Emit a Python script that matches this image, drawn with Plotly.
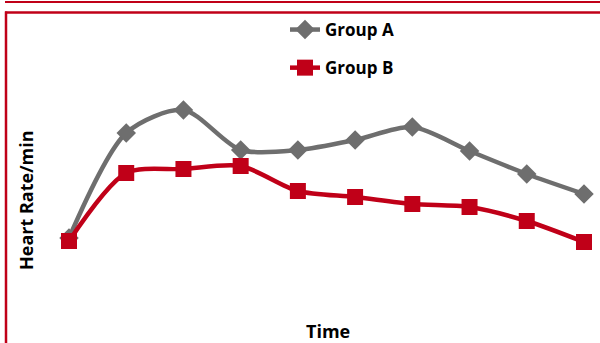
import plotly.graph_objects as go

time_points = [1, 2, 3, 4, 5, 6, 7, 8, 9, 10]
group_a = [75.5, 101.75, 107.5, 97.5, 97.5, 100.0, 103.25, 97.25, 91.5, 86.5]
group_b = [74.75, 91.75, 92.75, 93.5, 87.25, 85.75, 84.0, 83.25, 79.75, 74.5]

GREY = "#6E6E6E"
RED = "#C00018"
FONT = "Open Sans"

fig = go.Figure()
fig.add_trace(go.Scatter(
    x=time_points, y=group_a, name="Group A", mode="lines+markers",
    line=dict(color=GREY, width=4.5, shape="spline", smoothing=0.8),
    marker=dict(symbol="diamond", size=15, color=GREY),
    legendgroup="a",
))
fig.add_trace(go.Scatter(
    x=time_points, y=group_b, name="Group B", mode="lines+markers",
    line=dict(color=RED, width=4.5, shape="spline", smoothing=0.8),
    marker=dict(symbol="square", size=16, color=RED),
    legendgroup="b",
))

L, R, T, B = 40, 0, 20, 43
W, H = 600, 343
pw, ph = W - L - R, H - T - B


def px(x):
    return (x - L) / pw


def py(y):
    return (H - B - y) / ph


shapes = [
    dict(type="line", xref="paper", yref="paper", x0=px(5), x1=px(600), y0=py(2), y1=py(2),
         line=dict(color=RED, width=2)),
    dict(type="line", xref="paper", yref="paper", x0=px(5), x1=px(600), y0=py(12.5), y1=py(12.5),
         line=dict(color=RED, width=2.5)),
    dict(type="line", xref="paper", yref="paper", x0=px(6), x1=px(6), y0=py(11.5), y1=py(343),
         line=dict(color=RED, width=2.5)),
]

annotations = [
    dict(text="<b>Time</b>", xref="paper", yref="paper", x=px(328), y=py(331),
         xanchor="center", yanchor="middle", showarrow=False,
         font=dict(size=18, family=FONT, color="black")),
    dict(text="<b>Heart Rate/min</b>", xref="paper", yref="paper", x=px(26), y=py(200),
         xanchor="center", yanchor="middle", showarrow=False, textangle=-90,
         font=dict(size=18, family=FONT, color="black")),
]

fig.update_layout(
    width=W, height=H,
    margin=dict(l=L, r=R, t=T, b=B),
    paper_bgcolor="white", plot_bgcolor="white",
    font=dict(family=FONT, color="black"),
    showlegend=True,
    legend=dict(
        x=px(285), y=py(12), xanchor="left", yanchor="top",
        traceorder="grouped", tracegroupgap=13,
        font=dict(family=FONT, size=17, color="black", weight="bold"),
        bgcolor="rgba(0,0,0,0)",
    ),
    xaxis=dict(range=[0.493, 10.28], showgrid=False, zeroline=False, showline=False,
               showticklabels=False, ticks=""),
    yaxis=dict(range=[60, 130], showgrid=False, zeroline=False, showline=False,
               showticklabels=False, ticks=""),
    shapes=shapes,
    annotations=annotations,
)

fig.write_html("out.html", config={"displayModeBar": False},
               post_script="document.body.style.margin='0';document.body.style.overflow='hidden';")
